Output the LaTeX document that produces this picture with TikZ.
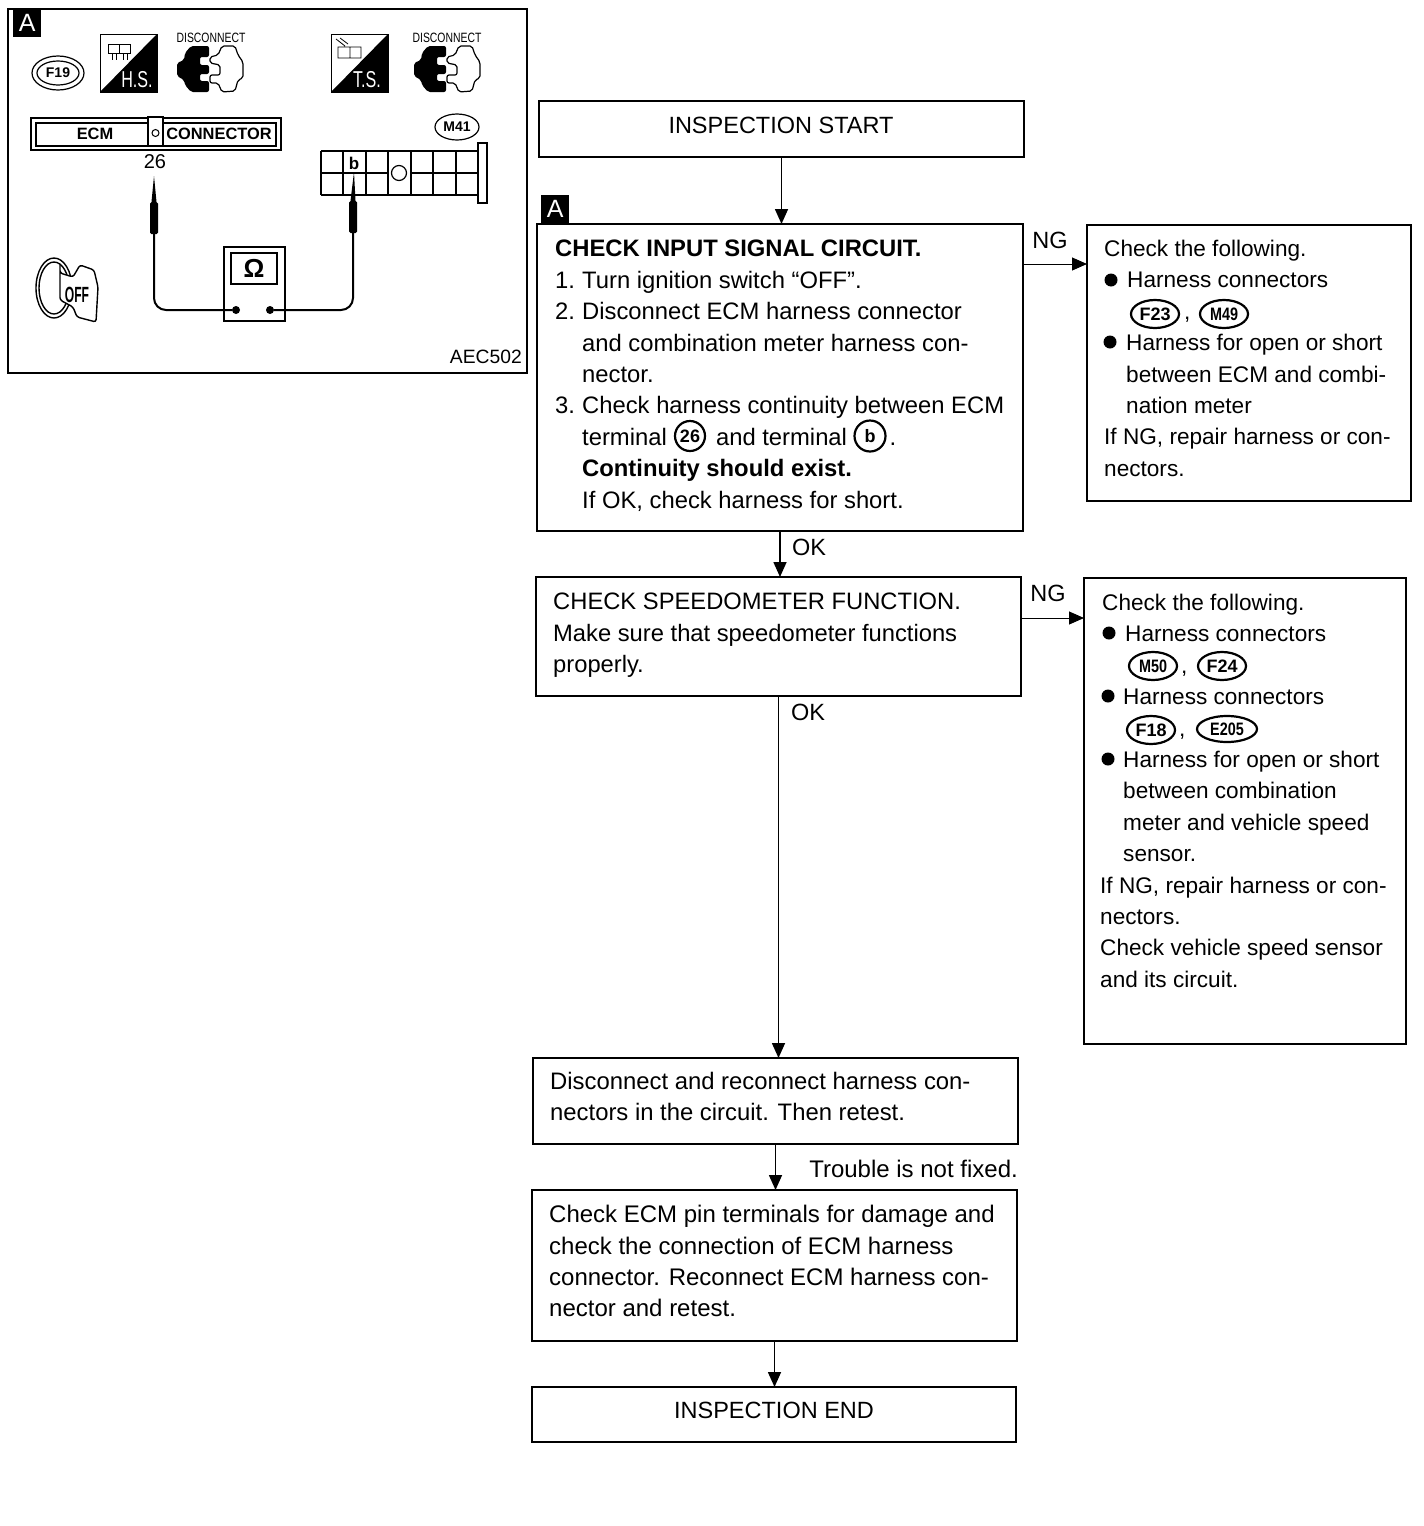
\documentclass[tikz,border=0pt]{standalone}
\usepackage{fontspec}
\setmainfont{Liberation Sans}
\usetikzlibrary{shapes,arrows.meta,calc}
\newcommand{\itm}[1]{\makebox[27pt][l]{#1}}
\newcommand{\ind}[1]{\hspace*{#1pt}}
\newcommand{\nrw}[2]{\scalebox{#1}[1]{#2}}

\begin{document}
\begin{tikzpicture}[
    x=1pt,
    y=-1pt,
    box/.style ={
        draw=black,
        fill=white,
        line width=1.6pt,
        anchor=north west,
        inner sep=0pt,
        outer sep=0pt
    },
    txt/.style ={
        anchor=north west,
        align=left,
        inner sep=0pt,
        font=\fontsize{#1}{31.4}\selectfont
    },
    lbl/.style ={
        inner sep=0pt,
        font=\fontsize{23.5}{28}\selectfont
    },
    oval/.style ={
        ellipse,
        draw=black,
        line width=2.2pt,
        inner sep=0pt,
        font=\fontsize{18}{20}\selectfont\bfseries
    },
    dot/.style ={
        circle,
        fill=black,
        inner sep=0pt,
        minimum size=13pt
    },
    tag/.style ={
        fill=black,
        text=white,
        inner sep=0pt,
        minimum width=28pt,
        minimum height=28pt,
        font=\fontsize{25}{28}\selectfont
    },
    flow/.style ={
        line width=1.6pt,
        -{Triangle[length=15pt,width=13pt]}
    },
    nglink/.style ={
        line width=1pt,
        -{Triangle[length=15pt,width=13pt]}
    },
    wire/.style ={
        line width=2pt
    },
    probe/.style ={
        fill=black,
        rounded corners=1.5pt,
        inner sep=0pt,
        minimum width=8pt,
        minimum height=32pt
    },
    discicon/.pic ={
        \fill[black,rounded corners=2pt] (0,-23) -- (-18,-23) -- (-24,-16) -- (-25,-9) -- (-32,-6) -- (-32,7) -- (-25,11)
            -- (-24,16) -- (-18,23) -- (0,23) -- (0,12) -- (-9,12) -- (-9,5) -- (0,5) -- (0,-4) -- (-9,-4) -- (-9,-12) -- (0,-12) -- cycle;
        \draw[black,line width=1.2pt,fill=white,rounded corners=2pt] (1,-12) -- (9,-14) -- (13,-23) -- (26,-23) -- (29,-14) -- (34,-7)
            -- (34,9) -- (29,11) -- (26,22) -- (13,23) -- (9,14) -- (1,14) -- (1,6) -- (11,6) -- (11,-4) -- (1,-6) -- cycle;
    }
    ]
    \useasboundingbox (0,0) rectangle (1424,1526);

    \foreach \x/ \pos/ \w/ \h in {{start/(539,101)/485/56}, {check/(537,224)/486/307}, {ngA/(1087,225)/324/276},
                                  {speed/(536,577)/485/119}, {ngB/(1084,578)/322/466}, {retest/(533,1058)/485/86},
                                  {pins/(532,1190)/485/151}, {finish/(532,1387)/484/55}}
        \node[box,minimum width=\w pt,minimum height=\h pt] (\x) at \pos {};

    \node[lbl] (starttxt) at (781,125) {INSPECTION START};
    \node[lbl] (finishtxt) at (774,1410) {INSPECTION END};
    \node[tag,anchor=south west] (tagB) at (541,223) {A};

    \node[txt=23.8] (checktxt) at (555,240) {\textbf{CHECK INPUT SIGNAL CIRCUIT.}\\
        \itm{1.}Turn ignition switch “OFF”.\\
        \itm{2.}Disconnect ECM harness connector\\
        \ind{27}and combination meter harness con-\\
        \ind{27}nector.\\
        \itm{3.}Check harness continuity between ECM\\
        \ind{27}terminal \hspace{36pt} and terminal \hspace{36pt}.\\
        \ind{27}\textbf{Continuity should exist.}\\
        \ind{27}If OK, check harness for short.};
    \node[txt=22.6] (ngAtxt) at (1104,240) {Check the following.\\
        \ind{23}Harness connectors\\
        \ind{80},\\
        \ind{22}Harness for open or short\\
        \ind{22}between ECM and combi-\\
        \ind{22}nation meter\\
        If NG, repair harness or con-\\
        nectors.};
    \node[txt=23.75] (speedtxt) at (553,593) {CHECK SPEEDOMETER FUNCTION.\\
        Make sure that speedometer functions\\
        properly.};
    \node[txt=22.6] (ngBtxt) at (1100,594) {\ind{2}Check the following.\\
        \ind{25}Harness connectors\\
        \ind{81},\\
        \ind{23}Harness connectors\\
        \ind{79},\\
        \ind{23}Harness for open or short\\
        \ind{23}between combination\\
        \ind{23}meter and vehicle speed\\
        \ind{23}sensor.\\
        If NG, repair harness or con-\\
        nectors.\\
        Check vehicle speed sensor\\
        and its circuit.};
    \node[txt=23.85] (retesttxt) at (550,1072) {Disconnect and reconnect harness con-\\
        nectors in the circuit. Then retest.};
    \node[txt=24] (pinstxt) at (549,1205) {Check ECM pin terminals for damage and\\
        check the connection of ECM harness\\
        connector. Reconnect ECM harness con-\\
        nector and retest.};

    \foreach \x/ \pos/ \w/ \h/ \t in {{oF/(1155,314)/48/28/F23}, {oG/(1224,314)/48/28/\nrw{.8}{M49}}, {oH/(1153,666)/48/28/\nrw{.8}{M50}},
                                      {oI/(1222,666)/48/28/F24}, {oJ/(1151,730)/48/28/F18}, {oK/(1227,729)/60/26/\nrw{.8}{E205}},
                                      {tA/(690,436)/30/30/26}, {tB/(870,436)/31/31/b}}
        \node[oval,minimum width=\w pt,minimum height=\h pt] (\x) at \pos {\t};

    \foreach \x/ \pos in {{bA/(1111,280)}, {bB/(1110,342)}, {bC/(1109,633)}, {bD/(1108,696)}, {bE/(1108,759)}}
        \node[dot] (\x) at \pos {};

    \draw[flow] (start.south) -- (start.south |- check.north);
    \draw[flow] (check.south) -- (check.south |- speed.north);
    \draw[flow] (speed.south) -- (speed.south |- retest.north);
    \draw[flow] (retest.south) -- (retest.south |- pins.north);
    \draw[flow] (pins.south) -- (pins.south |- finish.north);

    \coordinate (ngAfrom) at (1024,264);
    \coordinate (ngBfrom) at (1021,618);
    \draw[nglink] (ngAfrom) -- (ngAfrom -| ngA.west);
    \draw[nglink] (ngBfrom) -- (ngBfrom -| ngB.west);

    \foreach \x/ \pos/ \t in {{lA/(1050,240)/NG}, {lB/(809,547)/OK}, {lC/(1048,593)/NG}, {lD/(808,712)/OK}}
        \node[lbl] (\x) at \pos {\t};
    \node[lbl,anchor=east,font=\fontsize{24}{28}\selectfont] (lE) at (1018,1169) {Trouble is not fixed.};

    % test picture
    \node[box,line width=2pt,minimum width=519pt,minimum height=364pt] (frame) at (8,9) {};
    \node[tag,anchor=north west] (tagA) at (13,9) {A};

    \node[oval,line width=1.2pt,minimum width=52pt,minimum height=34pt] (oAouter) at (58,73) {};
    \node[oval,line width=1.2pt,minimum width=42pt,minimum height=24pt,font=\fontsize{14}{16}\selectfont\bfseries] (oA) at (58,73) {F19};
    \node[oval,line width=1.2pt,minimum width=44pt,minimum height=26pt,font=\fontsize{14}{16}\selectfont\bfseries] (oB) at (457,127) {M41};

    \foreach \xa/ \xb in {100/157, 331/388} {
        \draw[line width=1pt] (\xa,34) rectangle (\xb,92);
        \fill[black] (\xa,92) -- (\xb,34) -- (\xb,92) -- cycle;
    }
    \node[text=white,inner sep=0pt,font=\fontsize{23}{25}\selectfont] (hs) at (137,80) {\nrw{.7}{H.S.}};
    \node[text=white,inner sep=0pt,font=\fontsize{23}{25}\selectfont] (ts) at (367,80) {\nrw{.7}{T.S.}};
    \draw[line width=.8pt] (108,44) rectangle (119,53) (119,44) rectangle (130,53)
        (112,53) -- (112,60) (116,53) -- (116,60) (123,53) -- (123,60) (127,53) -- (127,60);
    \draw[line width=.8pt] (338,47) rectangle (350,58) (350,47) rectangle (361,58) (336,39) -- (345,46) (340,38) -- (348,44);

    \node[inner sep=0pt,font=\fontsize{13.5}{15}\selectfont] (discA) at (211,38) {\nrw{.77}{DISCONNECT}};
    \node[inner sep=0pt,font=\fontsize{13.5}{15}\selectfont] (discB) at (447,38) {\nrw{.77}{DISCONNECT}};
    \pic at (209,69) {discicon};
    \pic at (446,69) {discicon};

    \node[box,line width=1.4pt,minimum width=250pt,minimum height=32pt] (ecmout) at (31,118) {};
    \node[box,line width=1.4pt,minimum width=240pt,minimum height=23pt] (ecmin) at (36,123) {};
    \node[box,line width=1.4pt,minimum width=15pt,minimum height=29pt] (ecmtab) at (148,117) {};
    \node[circle,draw=black,line width=1pt,minimum size=7pt,inner sep=0pt] (ecmhole) at (155.5,133) {};
    \node[inner sep=0pt,font=\fontsize{16.4}{18}\selectfont\bfseries] (ecm) at (95,134) {ECM};
    \node[inner sep=0pt,font=\fontsize{16.4}{18}\selectfont\bfseries] (conn) at (219,134) {CONNECTOR};
    \node[inner sep=0pt,font=\fontsize{20}{22}\selectfont] (pinA) at (155,162) {26};
    \node[inner sep=0pt,font=\fontsize{19.3}{22}\selectfont,anchor=east] (code) at (522,357) {AEC502};

    \foreach \xa in {321,343,366,388,411,433,456}
        \draw[line width=1.4pt] (\xa,151) -- (\xa,195);
    \draw[line width=1.4pt] (321,151) -- (478,151) (321,195) -- (478,195) (321,173) -- (388,173) (411,173) -- (478,173);
    \node[box,line width=1.4pt,minimum width=9pt,minimum height=60pt] (bar) at (478,143) {};
    \node[circle,draw=black,line width=1.2pt,minimum size=15pt,inner sep=0pt] (hole) at (399,173) {};
    \node[inner sep=0pt,font=\fontsize{17}{19}\selectfont\bfseries] (pinB) at (354,163) {b};

    \node[box,line width=1.4pt,minimum width=61pt,minimum height=74pt] (meter) at (224,247) {};
    \node[box,line width=1.4pt,minimum width=46pt,minimum height=31pt,font=\fontsize{26}{28}\selectfont\bfseries] (screen) at (231,253) {Ω};
    \node[circle,fill=black,inner sep=0pt,minimum size=8pt] (dotL) at (236,310) {};
    \node[circle,fill=black,inner sep=0pt,minimum size=8pt] (dotR) at (270,310) {};
    \node[probe] (probeL) at (154,218) {};
    \node[probe] (probeR) at (353,217) {};
    \coordinate (tipL) at (154,176);
    \coordinate (tipR) at (354,172);
    \fill[black] (tipL) -- ($(probeL.north)+(-2.5,0)$) -- ($(probeL.north)+(2.5,0)$) -- cycle;
    \fill[black] (tipR) -- ($(probeR.north)+(-2.5,0)$) -- ($(probeR.north)+(2.5,0)$) -- cycle;
    \draw[wire,rounded corners=12pt] (probeL.south) |- (dotL);
    \draw[wire,rounded corners=12pt] (probeR.south) |- (dotR);

    % ignition key
    \draw[line width=1.4pt] (54,288) ellipse [x radius=18,y radius=30];
    \draw[line width=1.4pt] (54,288) ellipse [x radius=15,y radius=26];
    \draw[line width=1.4pt,fill=white,rounded corners=2.5pt] (60,263) -- (60,273) -- (73,277) -- (80,265) -- (94,270) -- (98,287)
        -- (96,322) -- (77,317) -- (73,307) -- (60,300) -- cycle;
    \node[inner sep=0pt,font=\fontsize{22}{24}\selectfont\bfseries] (off) at (77,295) {\nrw{.55}{OFF}};
\end{tikzpicture}
\end{document}
